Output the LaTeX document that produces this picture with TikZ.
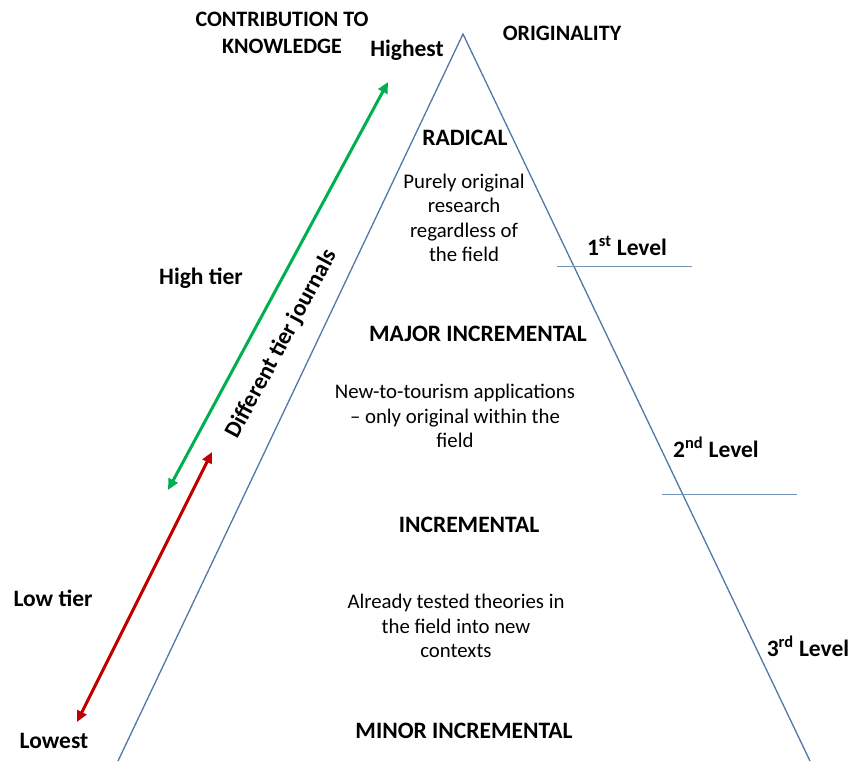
\documentclass[tikz,border=0pt]{standalone}
\usepackage{fontspec}
\setmainfont{Carlito}
\usetikzlibrary{arrows.meta}
\definecolor{triblue}{RGB}{80,120,165}
\definecolor{arrgreen}{RGB}{0,176,80}
\definecolor{arrred}{RGB}{192,0,0}
\tikzset{
  hdr/.style={font=\bfseries\fontsize{23.5}{27}\selectfont, inner sep=0pt},
  lvl/.style={font=\bfseries\fontsize{23.5}{27}\selectfont, inner sep=0pt},
  body/.style={font=\fontsize{20.8}{24.5}\selectfont, align=center, inner sep=0pt},
  tri/.style={draw=triblue, line width=1.3pt},
  sep/.style={draw=triblue!80, line width=0.8pt},
  dbl/.style={line width=3pt, {Triangle[length=11pt,width=10pt]}-{Triangle[length=11pt,width=10pt]}}
}
\begin{document}
\begin{tikzpicture}[x=1pt,y=-1pt]
\useasboundingbox (0,0) rectangle (852,761);
% triangle
\coordinate (apex) at (463,34);
\coordinate (bl) at (118,761);
\coordinate (br) at (810,761);
\draw[tri] (bl) -- (apex) -- (br);
% level separators
\coordinate (s1a) at (557,266);
\coordinate (s1b) at (692,266);
\coordinate (s2a) at (662,494);
\coordinate (s2b) at (797,494);
\draw[sep] (s1a) -- (s1b);
\draw[sep] (s2a) -- (s2b);
% arrows
\coordinate (g1) at (388,82);
\coordinate (g2) at (168,490);
\coordinate (r1) at (212,452);
\coordinate (r2) at (77,722);
\draw[dbl, arrgreen] (g2) -- (g1);
\draw[dbl, arrred] (r2) -- (r1);
\node[hdr, rotate=61.7] (diff) at (282,344) {Different tier journals};
% texts
\node[hdr, align=center, font=\bfseries\fontsize{22}{27}\selectfont] (contrib) at (282,33) {CONTRIBUTION TO\\KNOWLEDGE};
\node[hdr] (highest) at (407,50) {Highest};
\node[hdr, font=\bfseries\fontsize{22}{27}\selectfont] (orig) at (562,33) {ORIGINALITY};
\node[hdr] (radical) at (465,138) {RADICAL};
\node[body] (t1) at (464,218) {Purely original\\research\\regardless of\\the field};
\node[lvl] (l1) at (627,246) {1\textsuperscript{st} Level};
\node[hdr] (hightier) at (201,278) {High tier};
\node[hdr] (major) at (478,334) {MAJOR INCREMENTAL};
\node[body] (t2) at (455,416) {New-to-tourism applications\\– only original within the\\field};
\node[lvl] (l2) at (716,447) {2\textsuperscript{nd} Level};
\node[hdr] (incr) at (469,525) {INCREMENTAL};
\node[body] (t3) at (456,626) {Already tested theories in\\the field into new\\contexts};
\node[hdr] (lowtier) at (53,598) {Low tier};
\node[lvl] (l3) at (808,646) {3\textsuperscript{rd} Level};
\node[hdr] (lowest) at (54,741) {Lowest};
\node[hdr] (minor) at (464,731) {MINOR INCREMENTAL};
\end{tikzpicture}
\end{document}
